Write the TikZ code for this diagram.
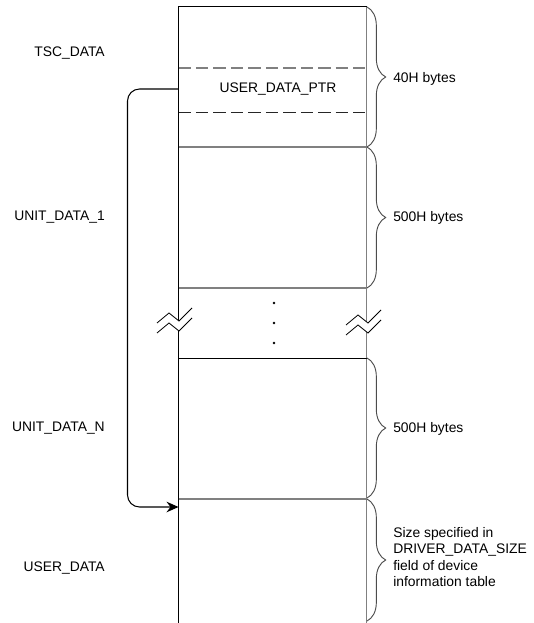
\documentclass[tikz,border=0pt]{standalone}
\usepackage{fontspec}
\setmainfont{Liberation Sans}
\usetikzlibrary{arrows.meta,decorations.pathreplacing}

\begin{document}
\begin{tikzpicture}[x=0.75pt,y=-0.75pt,
  font=\fontsize{10.4}{12.4}\selectfont,
  wall/.style={draw=black, line width=0.75pt},
  grayrule/.style={draw=black!50, line width=1pt},
  cutline/.style={line width=0.8pt, dash pattern=on 9.2pt off 3.9pt},
  lbl/.style={anchor=east, inner sep=0pt},
  sz/.style={anchor=west, inner sep=0pt, align=left},
  brc/.style={draw=black!70, line width=0.7pt, decorate,
              decoration={brace, amplitude=14pt}},
  ptrarrow/.style={draw=black, line width=0.8pt, rounded corners=9pt,
                   -{Stealth[length=9pt, width=8pt, inset=3pt]}},
]
  \useasboundingbox (0,0) rectangle (533,623);

  % column: left edge 178.5, right edge 366.7, top 7
  \draw[wall] (178.5,623) -- (178.5,7) -- (366.7,7);
  \draw[grayrule] (366.7,7) -- (366.7,623);
  \draw[cutline, draw=black!50] (178.5,68) -- (366.7,68);
  \draw[cutline, draw=black!85] (178.5,112.5) -- (366.7,112.5);
  \draw[grayrule] (178.5,147) -- (366.7,147);
  \draw[grayrule] (178.5,288) -- (366.7,288);
  \draw[wall] (178.5,358) -- (366.7,358);
  \draw[grayrule] (178.5,499) -- (366.7,499);

  % break marks on both edges
  \foreach \dx/\dy in {0/0, 189/2} {
    \begin{scope}[shift={(\dx,\dy)}]
      \fill[white] (157,323) -- (169,313) -- (179,321) -- (192,308)
        -- (192,318) -- (179,331) -- (169,323) -- (157,333) -- cycle;
      \draw[line width=0.6pt] (157,323) -- (169,313) -- (179,321) -- (192,308);
      \draw[line width=0.6pt] (157,333) -- (169,323) -- (179,331) -- (192,318);
    \end{scope}
  }
  \foreach \y in {303,323,343}
    \fill (274,\y) circle (1.4);

  \node (ptr) at (278,89) {USER\_DATA\_PTR};

  % left labels
  \node[lbl] (tsc) at (105,53) {TSC\_DATA};
  \node[lbl] (unit1) at (105,217) {UNIT\_DATA\_1};
  \node[lbl] (unitn) at (105,428) {UNIT\_DATA\_N};
  \node[lbl] (user) at (105,568) {USER\_DATA};

  % pointer to USER_DATA
  \coordinate (src) at (178.5,89);
  \coordinate (turn) at (127.5,507);
  \coordinate (dst) at (178.5,507);
  \draw[ptrarrow] (src) -| (turn) -- (dst);

  % braces and sizes
  \draw[brc] (367,7) -- (367,147);
  \draw[brc] (367,147) -- (367,288);
  \draw[brc] (367,358) -- (367,498);
  \draw[brc] (367,499) -- (367,621);
  \node[sz] (sz1) at (393,79) {40H bytes};
  \node[sz] (sz2) at (393,218) {500H bytes};
  \node[sz] (sz3) at (393,429) {500H bytes};
  \node[sz] (sz4) at (393,557) {Size specified in\\DRIVER\_DATA\_SIZE\\field of device\\information table};
\end{tikzpicture}
\end{document}
